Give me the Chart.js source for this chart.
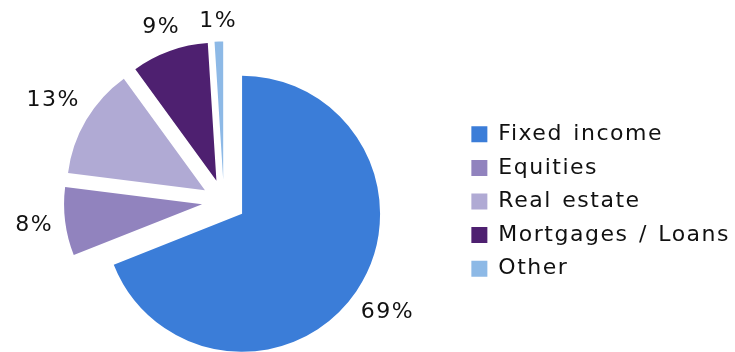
<!DOCTYPE html>
<html>
<head>
<meta charset="utf-8">
<script src="https://cdn.jsdelivr.net/npm/chart.js@4/dist/chart.umd.min.js"></script>
<style>
  html, body { margin: 0; padding: 0; background: #ffffff; overflow: hidden; }
  body { width: 735px; height: 352px; }
  /* the drawing surface bleeds 12px past the left edge of the page */
  #wrap { position: relative; width: 747px; height: 352px; margin-left: -12px; }
</style>
</head>
<body>
<div id="wrap"><canvas id="pie"></canvas></div>
<script>
// Portfolio allocation by asset class (percent of total)
const categories = ['Fixed income', 'Equities', 'Real estate', 'Mortgages / Loans', 'Other'];
const shares = [69, 8, 13, 9, 1];
const sliceColors = ['#3B7DD8', '#9183BE', '#B0AAD4', '#4E2070', '#8DB9E6'];

const FONT = { family: '"DejaVu Sans", Verdana, sans-serif', size: 22 };
const TRACKING = '1.5px';
const WORD_GAP = '2px';
const EXPLODE = 22;   // distance every slice is pulled away from the centre, px

function setTracking(ctx) {
  ctx.letterSpacing = TRACKING;
  ctx.wordSpacing = WORD_GAP;
}

// Canvas letter spacing (reset whenever the canvas is resized)
const tracking = {
  id: 'tracking',
  beforeLayout(chart) { setTracking(chart.ctx); },
  beforeDraw(chart) { setTracking(chart.ctx); }
};

// Exploded pie: move each arc out along its bisector by the same distance,
// keeping its radius and angles unchanged.
const explode = {
  id: 'explode',
  afterDatasetUpdate(chart, args) {
    args.meta.data.forEach(arc => {
      const mid = (arc.startAngle + arc.endAngle) / 2;
      arc.x += Math.cos(mid) * EXPLODE;
      arc.y += Math.sin(mid) * EXPLODE;
    });
  }
};

// Percentage labels outside each slice: the label box sits on the bisector,
// with its nearest side a fixed gap beyond the rim.
const outsideLabels = {
  id: 'outsideLabels',
  afterDatasetsDraw(chart, args, opts) {
    const ctx = chart.ctx;
    const meta = chart.getDatasetMeta(0);
    const ds = chart.data.datasets[0];
    ctx.save();
    setTracking(ctx);
    ctx.font = `${FONT.size}px ${FONT.family}`;
    ctx.fillStyle = '#111111';
    ctx.textAlign = 'center';
    ctx.textBaseline = 'middle';
    meta.data.forEach((arc, i) => {
      const mid = (arc.startAngle + arc.endAngle) / 2;
      const cx = Math.cos(mid), cy = Math.sin(mid);
      const text = ds.data[i] + '%';
      const w = ctx.measureText(text).width;
      const reach = Math.abs(cx) * w / 2 + Math.abs(cy) * opts.capHeight / 2;
      const d = arc.outerRadius + opts.pad + reach;
      ctx.fillText(text, arc.x + cx * d, arc.y + cy * d);
    });
    ctx.restore();
  }
};

new Chart(document.getElementById('pie'), {
  type: 'pie',
  data: {
    labels: categories,
    datasets: [{
      data: shares,
      backgroundColor: sliceColors,
      borderColor: sliceColors,
      borderWidth: 0,
      radius: 138,
      clip: false
    }]
  },
  options: {
    responsive: true,
    maintainAspectRatio: false,
    animation: false,
    events: [],
    layout: { padding: { left: 0, right: -5, top: 51, bottom: 0 } },
    plugins: {
      tooltip: { enabled: false },
      outsideLabels: { pad: 11.3, capHeight: 16 },
      legend: {
        position: 'right',
        align: 'center',
        labels: {
          boxWidth: 16,
          boxHeight: 16,
          padding: 11.6,
          color: '#111111',
          font: FONT
        }
      }
    }
  },
  plugins: [tracking, explode, outsideLabels]
});
</script>
</body>
</html>
